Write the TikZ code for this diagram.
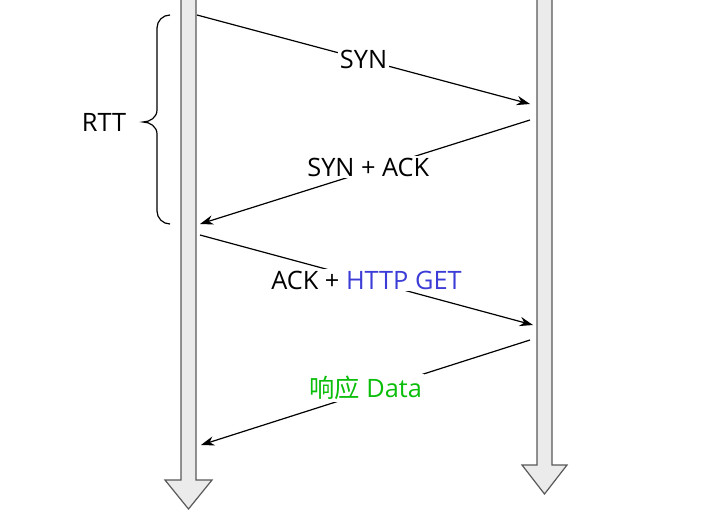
\documentclass[tikz,border=0pt]{standalone}
\usepackage{fontspec}
\setmainfont{Open Sans}
\newfontfamily\cjkfont{Noto Sans CJK SC}
\usetikzlibrary{arrows.meta}
\usetikzlibrary{positioning}
\tikzset{msg/.style = {-{Stealth[length=10pt,width=7pt]}, line width=0.9pt},
         lbl/.style = {fill=white, inner sep=1.5pt, font=\fontsize{19}{22}\selectfont},
         lifeline/.style = {draw=black!65, fill=black!8, line width=0.9pt}}
\definecolor{getblue}{RGB}{60,60,215}
\definecolor{datagreen}{RGB}{10,190,10}

\begin{document}
\begin{tikzpicture}[x=0.75pt, y=-0.75pt]
    \useasboundingbox (0, 0) rectangle (712, 521);
    % client and server lines
    \draw [lifeline] (181, -3) -- (181, 480) -- (165, 480) -- (188.5, 509) -- (212, 480) -- (196, 480) -- (196, -3);
    \draw [lifeline] (537, -3) -- (537, 465) -- (522, 465) -- (544.5, 494) -- (567, 465) -- (552, 465) -- (552, -3);
    \coordinate (syn0) at (197, 15);   \coordinate (syn1) at (530, 104);
    \coordinate (ack0) at (530, 120);  \coordinate (ack1) at (200, 224);
    \coordinate (get0) at (200, 235);  \coordinate (get1) at (533, 325);
    \coordinate (dat0) at (530, 340);  \coordinate (dat1) at (201, 445);
    \draw [msg] (syn0) -- node [lbl, pos=0.5] {SYN} (syn1);
    \draw [msg] (ack0) -- node [lbl, pos=0.49, yshift=3pt] {SYN + ACK} (ack1);
    \draw [msg] (get0) -- node [lbl, pos=0.5] {ACK + \textcolor{getblue}{HTTP GET}} (get1);
    \draw [msg] (dat0) -- node [lbl, pos=0.5, yshift=3.5pt, text=datagreen] {{\cjkfont 响应} Data} (dat1);
    % round trip
    \draw [line width=0.9pt] (170, 15) to [out=180, in=90] (157, 28) -- (157, 110) to [out=-90, in=0] (143, 122)
      to [out=0, in=90] (157, 134) -- (157, 211) to [out=-90, in=180] (170, 224);
    \node [lbl] (rtt) at (104, 122) {RTT};
  \end{tikzpicture}
\end{document}
